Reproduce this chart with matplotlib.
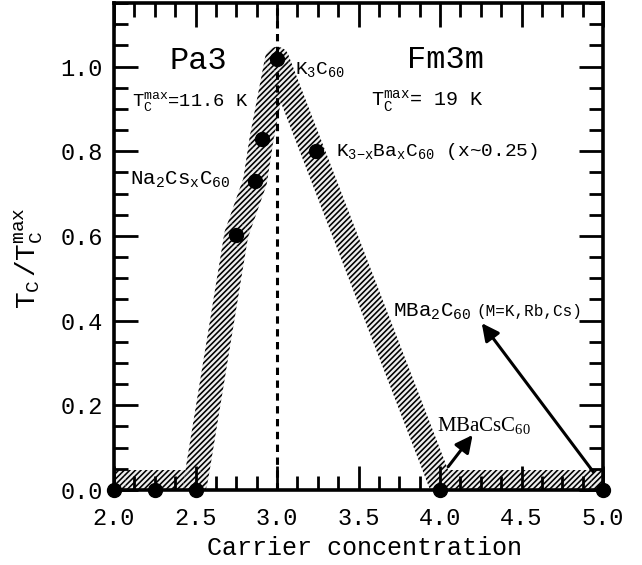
import numpy as np
import matplotlib
matplotlib.use('Agg')
import matplotlib.pyplot as plt
from matplotlib.patches import Polygon, Circle
from matplotlib.transforms import IdentityTransform
from matplotlib.ticker import MultipleLocator

# ---- data ----
dot_x = [2.0, 2.25, 2.5, 2.75, 2.865, 2.905, 3.0, 3.24, 4.0, 5.0]
dot_y = [0.0, 0.0, 0.0, 0.603, 0.729, 0.829, 1.018, 0.80, 0.0, 0.0]
band_x = [2.0, 2.5, 2.75, 2.865, 2.905, 3.0, 4.0, 5.0]
band_y = [0.018, 0.018, 0.603, 0.729, 0.829, 1.018, 0.018, 0.018]
x_ticks = [2.0, 2.5, 3.0, 3.5, 4.0, 4.5, 5.0]
y_ticks = [0.0, 0.2, 0.4, 0.6, 0.8, 1.0]
boundary_x = 3.0

plt.rcParams['font.family'] = ['Liberation Mono', 'DejaVu Sans']
plt.rcParams['mathtext.fontset'] = 'custom'
plt.rcParams['mathtext.rm'] = 'Liberation Mono'
plt.rcParams['mathtext.it'] = 'Liberation Mono'
plt.rcParams['mathtext.bf'] = 'Liberation Mono:bold'
plt.rcParams['mathtext.sf'] = 'Liberation Serif'
plt.rcParams['mathtext.default'] = 'rm'
plt.rcParams['hatch.linewidth'] = 1.15

fig = plt.figure(figsize=(6.42, 5.65), dpi=100)
ax = fig.add_axes([0.1776, 0.1327, 0.7617, 0.862])
ax.set_xlim(2.0, 5.0)
ax.set_ylim(0.0, 1.15)

# ---- hatched band (thick stroke built from segments + round joins) ----
band_w_px = 24.0
hw = band_w_px / 2
P = ax.transData.transform(np.column_stack([band_x, band_y]))
style = dict(facecolor='#eeeeee', edgecolor='black', linewidth=0,
             hatch='//////', zorder=1.5)
for i in range(len(P) - 1):
    p0, p1 = P[i], P[i + 1]
    d = p1 - p0
    n = np.array([-d[1], d[0]]) / np.hypot(d[0], d[1]) * hw
    quad = np.array([p0 + n, p1 + n, p1 - n, p0 - n])
    ax.add_patch(Polygon(quad, closed=True, transform=IdentityTransform(), **style))
for p in P:
    ax.add_patch(Circle(p, hw, transform=IdentityTransform(), **style))

ax.set_xlim(2.0, 5.0)
ax.set_ylim(0.0, 1.15)

# dashed boundary
ax.axvline(boundary_x, color='black', lw=2.2, ls=(0, (2.4, 1.8)), zorder=2)

# points
ax.plot(dot_x, dot_y, 'o', color='black', ms=10, clip_on=False, zorder=5)

# ---- text ----
ax.text(2.52, 0.995, 'Pa3', fontsize=23, ha='center', va='baseline')
ax.text(4.035, 0.997, 'Fm3m', fontsize=23, ha='center', va='baseline')
ax.text(2.11, 0.906, r'$\mathrm{T_C^{max}}$=11.6 K', fontsize=13.5, ha='left', va='baseline')
ax.text(3.575, 0.906, r'$\mathrm{T_C^{max}}$= 19 K', fontsize=14.5, ha='left', va='baseline')
ax.text(3.11, 0.983, r'K$_3$C$_{60}$', fontsize=14, ha='left', va='baseline')
ax.text(2.10, 0.721, r'Na$_2$Cs$_x$C$_{60}$', fontsize=15, ha='left', va='baseline')
ax.text(3.36, 0.788, r'K$_{3\mathrm{-}x}$Ba$_x$C$_{60}$ (x~0.25)', fontsize=14, ha='left', va='baseline')
ax.text(3.71, 0.41, r'MBa$_2$C$_{60}$', fontsize=15, ha='left', va='baseline')
ax.text(4.225, 0.41, '(M=K,Rb,Cs)', fontsize=11.5, ha='left', va='baseline')
ax.text(3.98, 0.138, r'MBaCsC$_{\mathsf{60}}$', fontsize=15, ha='left', va='baseline',
        family='Liberation Serif')

arrow = dict(arrowstyle='-|>', lw=2.2, color='black', mutation_scale=26,
             shrinkA=0, shrinkB=0)
ax.annotate('', xy=(4.256, 0.394), xytext=(4.94, 0.043), arrowprops=arrow, zorder=4)
ax.annotate('', xy=(4.20, 0.13), xytext=(4.05, 0.055), arrowprops=arrow, zorder=4)

# ---- axes styling ----
ax.set_xticks(x_ticks)
ax.set_yticks(y_ticks)
ax.set_xticklabels([f'{v:.1f}' for v in x_ticks])
ax.set_yticklabels([f'{v:.1f}' for v in y_ticks])
ax.xaxis.set_minor_locator(MultipleLocator(0.125))
ax.yaxis.set_minor_locator(MultipleLocator(0.05))
ax.tick_params(which='both', direction='in', top=True, right=True, width=2, labelsize=17)
ax.tick_params(which='major', length=17)
ax.tick_params(which='minor', length=10)
ax.tick_params(axis='x', which='major', pad=12)
ax.tick_params(axis='y', which='major', pad=8)
for s in ax.spines.values():
    s.set_linewidth(2.6)

ax.set_xlabel('Carrier concentration', fontsize=18)
ax.xaxis.set_label_coords(0.513, -0.095)
ax.set_ylabel(r'$\mathrm{T_C\,/T_C^{max}}$', fontsize=20)
ax.yaxis.set_label_coords(-0.141, 0.476)

fig.savefig('out.png', dpi=100)
